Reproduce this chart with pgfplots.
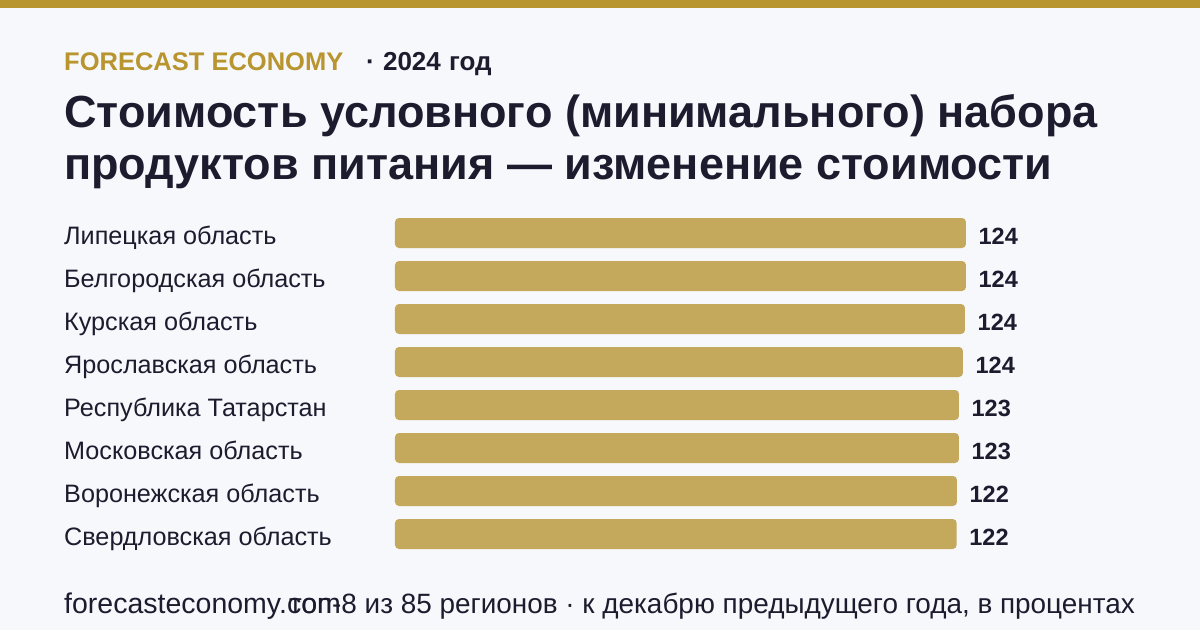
\documentclass[border=0pt]{standalone}
\usepackage{pgfplots}
\pgfplotsset{compat=1.18}
\usepackage{fontspec}
\setmainfont{Liberation Sans}
\definecolor{bg}{HTML}{F7F8FC}
\definecolor{gold}{HTML}{B8952F}
\definecolor{barc}{HTML}{C4A85C}
\definecolor{ink}{HTML}{1C1C2E}
\begin{document}
\begin{tikzpicture}
\fill[bg] (0,0) rectangle (1200pt,630pt);
\fill[gold] (0,622pt) rectangle (1200pt,630pt);
% header
\node[anchor=base west, inner sep=0pt, text=gold, font=\fontsize{25.5}{30}\selectfont\bfseries] at (64pt,559.3pt) {FORECAST ECONOMY};
\node[anchor=base west, inner sep=0pt, text=ink, font=\fontsize{26}{30}\selectfont\bfseries] at (366pt,559.3pt) {·\hspace{1pt} 2024\hspace{1pt} год};
% title
\node[anchor=base west, inner sep=0pt, text=ink, font=\fontsize{45}{50}\selectfont\bfseries] at (64pt,502.3pt) {Стоимость условного (минимального) набора};
\node[anchor=base west, inner sep=0pt, text=ink, font=\fontsize{45}{50}\selectfont\bfseries] at (64pt,450.7pt) {продуктов питания — изменение стоимости};
% footer
\node[anchor=base west, inner sep=0pt, text=ink, font=\fontsize{28.5}{32}\selectfont] at (64pt,16.7pt) {forecasteconomy.com};
\node[anchor=base east, inner sep=0pt, text=ink, font=\fontsize{27.9}{32}\selectfont] at (1135pt,16.7pt) {топ-8 из 85 регионов · к декабрю предыдущего года, в процентах};
\begin{axis}[
  at={(395pt,418.5pt)}, anchor=north west,
  scale only axis, width=596.8pt, height=344pt,
  xmin=0, xmax=130, ymin=-0.5, ymax=7.5,
  y dir=reverse,
  xbar, bar width=30pt,
  axis line style={draw=none},
  major tick length=0pt,
  xtick=\empty,
  ytick={0,1,2,3,4,5,6,7},
  yticklabels={Липецкая область,Белгородская область,Курская область,Ярославская область,Республика Татарстан,Московская область,Воронежская область,Свердловская область},
  yticklabel style={anchor=base west, inner sep=0pt, xshift=-331pt, yshift=-11.3pt, text=ink, font=\fontsize{25.2}{28}\selectfont},
  nodes near coords,
  point meta=explicit symbolic,
  nodes near coords style={anchor=base west, inner sep=0pt, xshift=12.5pt, yshift=-11pt, text=ink, font=\fontsize{23.5}{27}\selectfont\bfseries},
  clip=false,
]
\addplot[fill=barc, draw=none, rounded corners=4pt] coordinates {
(124.37,0) [124]
(124.37,1) [124]
(124.16,2) [124]
(123.72,3) [124]
(122.85,4) [123]
(122.85,5) [123]
(122.41,6) [122]
(122.35,7) [122]
};
\end{axis}
\pgfresetboundingbox
\useasboundingbox (0,0) rectangle (1200pt,630pt);
\end{tikzpicture}
\end{document}
